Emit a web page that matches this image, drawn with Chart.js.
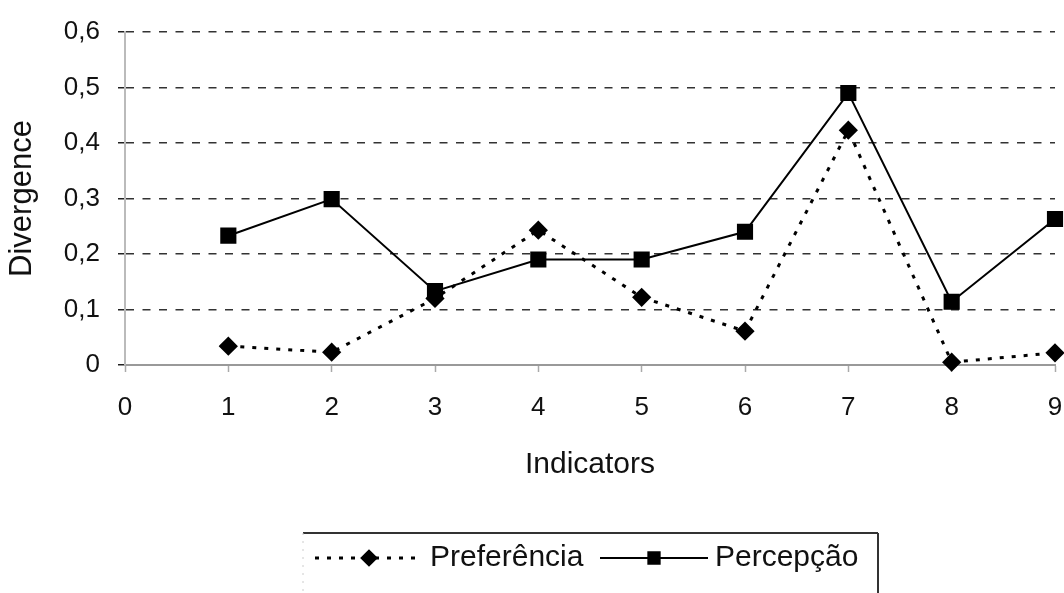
<!DOCTYPE html>
<html>
<head>
<meta charset="utf-8">
<script src="https://cdn.jsdelivr.net/npm/chart.js@4"></script>
<style>
html,body{margin:0;padding:0;background:#fff;}
#wrap{width:1064px;height:593px;}
</style>
</head>
<body>
<div id="wrap"><canvas id="c" width="1064" height="593"></canvas></div>
<script>
const indicators = [1, 2, 3, 4, 5, 6, 7, 8, 9];
const preferencia = [0.034, 0.023, 0.12, 0.243, 0.122, 0.061, 0.423, 0.005, 0.022];
const percepcao = [0.233, 0.299, 0.133, 0.19, 0.19, 0.24, 0.49, 0.114, 0.263];
const xTicks = [0, 1, 2, 3, 4, 5, 6, 7, 8, 9];
const yTicks = [0, 0.1, 0.2, 0.3, 0.4, 0.5, 0.6];
const seriesLabels = ['Preferência', 'Percepção'];
const xTitle = 'Indicators';
const yTitle = 'Divergence';

const FONT = "'Liberation Sans', Arial, sans-serif";

const legendPlugin = {
  id: 'customLegend',
  afterDraw(chart) {
    const ctx = chart.ctx;
    ctx.save();
    ctx.strokeStyle = '#333';
    ctx.lineWidth = 2;
    ctx.beginPath();
    ctx.moveTo(303, 533);
    ctx.lineTo(878, 533);
    ctx.moveTo(878, 533);
    ctx.lineTo(878, 593);
    ctx.stroke();
    ctx.strokeStyle = '#ccc';
    ctx.lineWidth = 1;
    ctx.setLineDash([2, 6]);
    ctx.beginPath();
    ctx.moveTo(303, 533);
    ctx.lineTo(303, 593);
    ctx.stroke();
    ctx.setLineDash([]);

    const y = 558;
    const items = [
      {x0: 315, x1: 423, text: 430},
      {x0: 600, x1: 708, text: 715}
    ];
    chart.data.datasets.forEach((ds, i) => {
      const it = items[i];
      ctx.strokeStyle = ds.borderColor;
      ctx.lineWidth = ds.borderWidth;
      ctx.setLineDash(ds.borderDash || []);
      ctx.beginPath();
      ctx.moveTo(it.x0, y);
      ctx.lineTo(it.x1, y);
      ctx.stroke();
      ctx.setLineDash([]);
      ctx.fillStyle = '#000';
      ctx.strokeStyle = '#000';
      Chart.helpers.drawPoint(ctx, {
        pointStyle: ds.pointStyle,
        radius: ds.pointRadius * (ds.pointStyle === 'rect' ? 0.8 : 0.9),
        rotation: 0,
        borderWidth: 1
      }, (it.x0 + it.x1) / 2, y);
      ctx.fillStyle = '#111';
      ctx.font = '30px ' + FONT;
      ctx.textBaseline = 'middle';
      ctx.textAlign = 'left';
      ctx.fillText(ds.label, it.text, y);
    });
    ctx.restore();
  }
};

const fmt = v => (Math.abs(v) < 1e-9 ? '0' : Number(v).toFixed(1).replace('.', ','));

new Chart(document.getElementById('c'), {
  type: 'line',
  data: {
    datasets: [
      {
        label: seriesLabels[0],
        data: indicators.map((x, i) => ({x: x, y: preferencia[i]})),
        borderColor: '#000',
        backgroundColor: '#000',
        borderWidth: 3,
        borderDash: [4, 8],
        pointStyle: 'rectRot',
        pointRadius: 7.5,
        pointBackgroundColor: '#000',
        pointBorderColor: '#000',
        tension: 0,
        clip: false
      },
      {
        label: seriesLabels[1],
        data: indicators.map((x, i) => ({x: x, y: percepcao[i]})),
        borderColor: '#000',
        backgroundColor: '#000',
        borderWidth: 2,
        pointStyle: 'rect',
        pointRadius: 10,
        pointBackgroundColor: '#000',
        pointBorderColor: '#000',
        tension: 0,
        clip: false
      }
    ]
  },
  options: {
    responsive: false,
    animation: false,
    events: [],
    layout: {autoPadding: false, padding: {top: 32, right: 9, left: 0, bottom: 0}},
    plugins: {legend: {display: false}, tooltip: {enabled: false}},
    scales: {
      x: {
        type: 'linear',
        min: xTicks[0],
        max: xTicks[xTicks.length - 1],
        afterBuildTicks: s => { s.ticks = xTicks.map(v => ({value: v})); },
        afterFit: s => { s.height = 228; s.paddingRight = 0; s.paddingLeft = 0; },
        ticks: {
          font: {family: FONT, size: 26},
          color: '#111',
          padding: 20,
          maxRotation: 0,
          autoSkip: false,
          callback: v => String(v)
        },
        grid: {
          drawOnChartArea: false,
          drawTicks: true,
          tickLength: 7,
          tickColor: '#aaa',
          tickWidth: 1.5
        },
        border: {display: true, color: '#999', width: 2},
        title: {
          display: true,
          text: xTitle,
          font: {family: FONT, size: 30},
          color: '#111',
          padding: {top: 0, bottom: 110}
        }
      },
      y: {
        type: 'linear',
        min: yTicks[0],
        max: yTicks[yTicks.length - 1],
        afterBuildTicks: s => { s.ticks = yTicks.map(v => ({value: v})); },
        afterFit: s => { s.width = 125; s.paddingTop = 0; s.paddingBottom = 0; },
        ticks: {
          font: {family: FONT, size: 26},
          color: '#111',
          padding: 18,
          callback: v => fmt(v)
        },
        grid: {
          color: c => (c.tick && Math.abs(c.tick.value) < 1e-9 ? 'rgba(0,0,0,0)' : '#333'),
          lineWidth: 1.5,
          tickLength: 7,
          tickColor: '#222',
          tickWidth: 1.5,
          tickBorderDash: []
        },
        border: {display: true, color: '#bbb', width: 2, dash: [8, 8.5]},
        title: {
          display: true,
          text: yTitle,
          font: {family: FONT, size: 31},
          color: '#111',
          padding: {top: 4, bottom: 0}
        }
      }
    }
  },
  plugins: [legendPlugin]
});
</script>
</body>
</html>
